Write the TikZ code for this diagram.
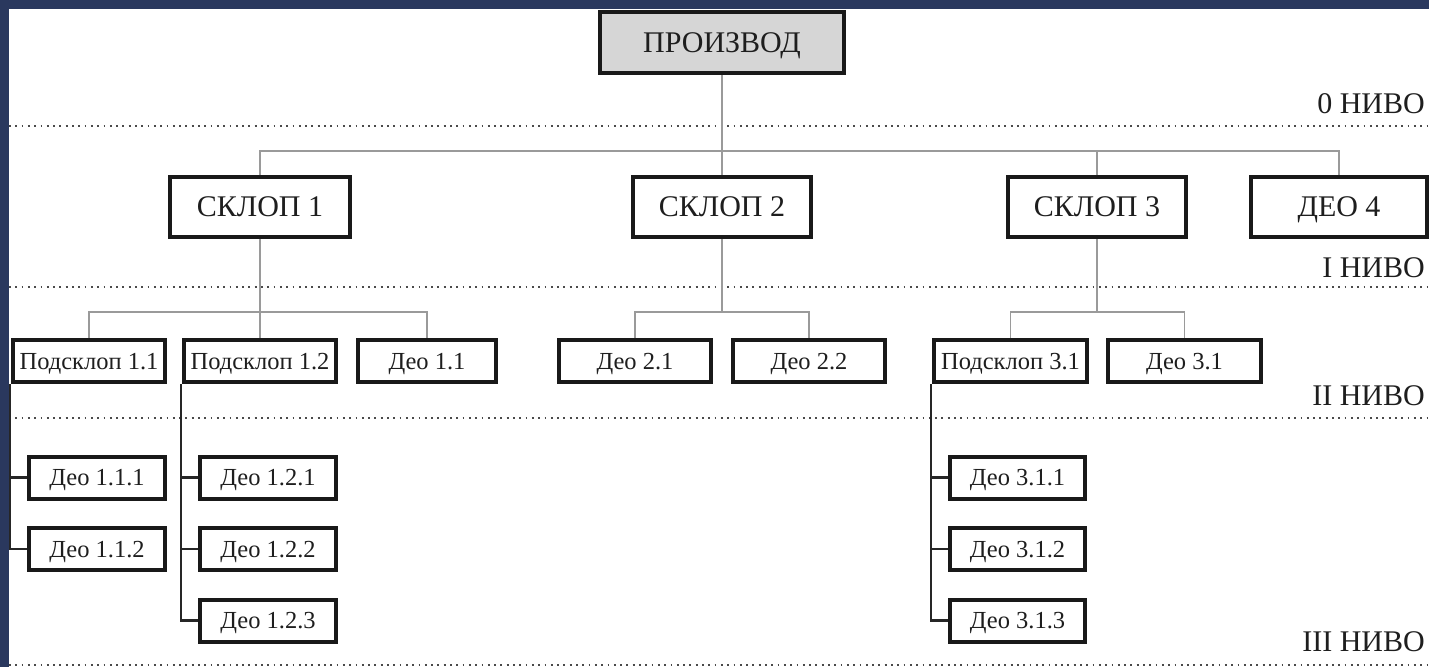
\documentclass[tikz,border=0pt]{standalone}
\usepackage{fontspec}
\setmainfont{Liberation Serif}
\definecolor{navy}{HTML}{2A385E}
\definecolor{boxfill}{HTML}{D6D6D6}
\definecolor{conngray}{HTML}{9A9A9A}
\definecolor{dotgray}{HTML}{4A4A4A}
\definecolor{txt}{HTML}{1E1E1E}
\begin{document}
\begin{tikzpicture}[x=1pt,y=-1pt,
  bigbox/.style={draw=black!90,line width=4pt,fill=white,inner sep=0pt,text=txt,
    font=\fontsize{30}{36}\selectfont,minimum height=60pt,text height=19.8pt,text depth=0pt},
  smallbox/.style={draw=black!90,line width=4pt,fill=white,inner sep=0pt,text=txt,
    font=\fontsize{24.5}{29}\selectfont,minimum height=42pt,text height=16.2pt,text depth=0pt},
  conn/.style={draw=conngray,line width=1.5pt},
  bconn/.style={draw=black!85,line width=2.2pt},
  levelline/.style={draw=dotgray,line width=1.8pt,dash pattern=on 1.8pt off 4.5pt},
  levellabel/.style={anchor=base east,inner sep=0pt,text=txt,font=\fontsize{30}{36}\selectfont}]
\useasboundingbox (0,0) rectangle (1429,667);
\fill[navy] (0,0) rectangle (1429,667);
\fill[white] (9,9) rectangle (1429,667);

% level lines
\draw[levelline] (9,126) -- (1429,126);
\draw[levelline] (9,287) -- (1429,287);
\draw[levelline] (9,418) -- (1429,418);
\draw[levelline] (9,665) -- (1429,665);

\node[levellabel] (l0) at (1425,113) {0 НИВО};
\node[levellabel] (l1) at (1425,277) {I НИВО};
\node[levellabel] (l2) at (1425,405) {II НИВО};
\node[levellabel] (l3) at (1425,651) {III НИВО};

% coordinates of horizontal bus lines
\coordinate (h0) at (722,151);
\coordinate (h1) at (0,312);

% level 0
\node[bigbox,fill=boxfill,minimum width=244pt,minimum height=61pt] (prz) at (722,42.5) {ПРОИЗВОД};

% level I
\node[bigbox,minimum width=180pt] (s1) at (260,207) {СКЛОП 1};
\node[bigbox,minimum width=178pt] (s2) at (722,207) {СКЛОП 2};
\node[bigbox,minimum width=178pt] (s3) at (1097,207) {СКЛОП 3};
\node[bigbox,minimum width=176pt] (d4) at (1339,207) {ДЕО 4};

% level II
\node[smallbox,minimum width=152pt] (p11) at (89,361) {Подсклоп 1.1};
\node[smallbox,minimum width=152pt] (p12) at (260,361) {Подсклоп 1.2};
\node[smallbox,minimum width=138pt] (d11) at (427,361) {Део 1.1};
\node[smallbox,minimum width=152pt] (d21) at (635,361) {Део 2.1};
\node[smallbox,minimum width=152pt] (d22) at (809,361) {Део 2.2};
\node[smallbox,minimum width=153pt] (p31) at (1010.5,361) {Подсклоп 3.1};
\node[smallbox,minimum width=153pt] (d31) at (1184.5,361) {Део 3.1};

% level III
\node[smallbox,minimum width=136pt] (d111) at (97,477.5) {Део 1.1.1};
\node[smallbox,minimum width=136pt] (d112) at (97,549) {Део 1.1.2};
\node[smallbox,minimum width=136pt] (d121) at (268,477.5) {Део 1.2.1};
\node[smallbox,minimum width=136pt] (d122) at (268,549) {Део 1.2.2};
\node[smallbox,minimum width=136pt] (d123) at (268,620.5) {Део 1.2.3};
\node[smallbox,minimum width=135pt] (d311) at (1017.5,477.5) {Део 3.1.1};
\node[smallbox,minimum width=135pt] (d312) at (1017.5,549) {Део 3.1.2};
\node[smallbox,minimum width=135pt] (d313) at (1017.5,620.5) {Део 3.1.3};

% connectors level 0 -> I
\draw[conn] (prz.south) -- (h0);
\draw[conn] (s1.north) -- (s1.north |- h0) -- (d4.north |- h0) -- (d4.north);
\draw[conn] (s2.north) -- (s2.north |- h0);
\draw[conn] (s3.north) -- (s3.north |- h0);

% level I -> II
\draw[conn] (s1.south) -- (s1.south |- h1);
\draw[conn] (p11.north) -- (p11.north |- h1) -- (d11.north |- h1) -- (d11.north);
\draw[conn] (p12.north) -- (p12.north |- h1);
\draw[conn] (s2.south) -- (s2.south |- h1);
\draw[conn] (d21.north) -- (d21.north |- h1) -- (d22.north |- h1) -- (d22.north);
\draw[conn] (s3.south) -- (s3.south |- h1);
\draw[conn] (p31.north) -- (p31.north |- h1) -- (d31.north |- h1) -- (d31.north);

% level II -> III brackets
\coordinate (v11) at ([xshift=-1pt]p11.south west);
\coordinate (v12) at ([xshift=-1pt]p12.south west);
\coordinate (v31) at ([xshift=-1pt]p31.south west);
\draw[bconn] (v11) -- (v11 |- d112.west) -- (d112.west);
\draw[bconn] (v11 |- d111.west) -- (d111.west);
\draw[bconn] (v12) -- (v12 |- d123.west) -- (d123.west);
\draw[bconn] (v12 |- d121.west) -- (d121.west);
\draw[bconn] (v12 |- d122.west) -- (d122.west);
\draw[bconn] (v31) -- (v31 |- d313.west) -- (d313.west);
\draw[bconn] (v31 |- d311.west) -- (d311.west);
\draw[bconn] (v31 |- d312.west) -- (d312.west);
\end{tikzpicture}
\end{document}
